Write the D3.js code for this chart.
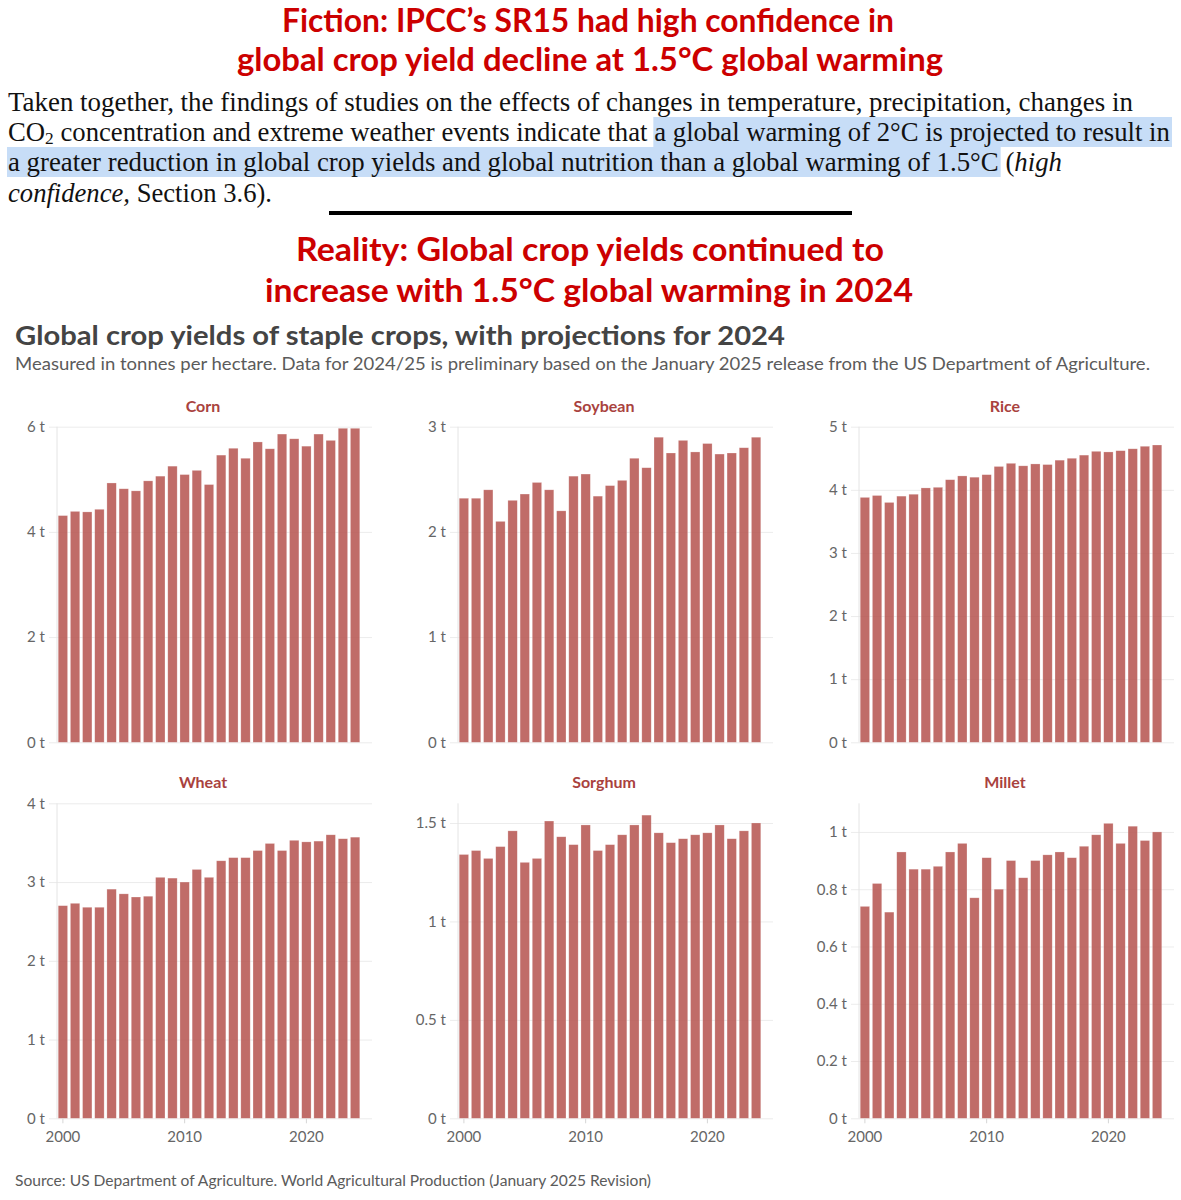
<!DOCTYPE html>
<html>
<head>
<meta charset="utf-8">
<script src="https://cdn.jsdelivr.net/npm/d3@7"></script>
<style>
  body { margin: 0; background: #fff; }
  svg text { white-space: pre; }
</style>
</head>
<body>
<svg id="chart" width="1181" height="1200"></svg>
<script>
// years 2000..2024 (2024/25 preliminary)
const years = [2000, 2001, 2002, 2003, 2004, 2005, 2006, 2007, 2008, 2009,
  2010, 2011, 2012, 2013, 2014, 2015, 2016, 2017, 2018, 2019,
  2020, 2021, 2022, 2023, 2024];

// tonnes per hectare
const corn = [4.31, 4.39, 4.38, 4.43, 4.93, 4.82, 4.78, 4.97, 5.06, 5.25,
  5.09, 5.17, 4.90, 5.46, 5.59, 5.40, 5.71, 5.58, 5.86, 5.77,
  5.63, 5.86, 5.74, 5.97, 5.97];
const soybean = [2.32, 2.32, 2.40, 2.10, 2.30, 2.36, 2.47, 2.40, 2.20, 2.53,
  2.55, 2.34, 2.44, 2.49, 2.70, 2.61, 2.90, 2.75, 2.87, 2.76,
  2.84, 2.74, 2.75, 2.80, 2.90];
const rice = [3.88, 3.91, 3.80, 3.90, 3.93, 4.03, 4.04, 4.16, 4.22, 4.20,
  4.24, 4.37, 4.42, 4.38, 4.41, 4.40, 4.47, 4.50, 4.55, 4.61,
  4.60, 4.62, 4.65, 4.69, 4.71];
const wheat = [2.70, 2.73, 2.68, 2.68, 2.91, 2.85, 2.81, 2.82, 3.06, 3.05,
  3.00, 3.16, 3.06, 3.27, 3.31, 3.31, 3.40, 3.49, 3.40, 3.53,
  3.51, 3.52, 3.60, 3.55, 3.57];
const sorghum = [1.34, 1.36, 1.32, 1.38, 1.46, 1.30, 1.32, 1.51, 1.43, 1.39,
  1.49, 1.36, 1.39, 1.44, 1.49, 1.54, 1.45, 1.40, 1.42, 1.44,
  1.45, 1.49, 1.42, 1.46, 1.50];
const millet = [0.74, 0.82, 0.72, 0.93, 0.87, 0.87, 0.88, 0.93, 0.96, 0.77,
  0.91, 0.80, 0.90, 0.84, 0.90, 0.92, 0.93, 0.91, 0.95, 0.99,
  1.03, 0.96, 1.02, 0.97, 1.00];

const crops = ["Corn", "Soybean", "Rice", "Wheat", "Sorghum", "Millet"];
const series = [corn, soybean, rice, wheat, sorghum, millet];
const yMax = [6, 3, 5, 4, 1.6, 1.1];
const yTicks = [
  [0, 2, 4, 6],
  [0, 1, 2, 3],
  [0, 1, 2, 3, 4, 5],
  [0, 1, 2, 3, 4],
  [0, 0.5, 1, 1.5],
  [0, 0.2, 0.4, 0.6, 0.8, 1]
];
const xTicks = [2000, 2010, 2020];

const svg = d3.select('#chart');
const RED = '#cc0000';
const SANS = 'Lato, "Noto Sans", sans-serif';
const HEAD = 'Lato, "Open Sans", sans-serif';
const SERIF = '"Liberation Serif", "DejaVu Serif", serif';

// text squeezed/stretched to a given width (start anchored)
function fitted(g, str, x, cy, width, size, family, weight, color) {
  return g.append('text')
    .attr('x', x).attr('y', cy)
    .attr('dominant-baseline', 'central')
    .style('font-family', family)
    .style('font-size', size + 'px')
    .style('font-weight', weight)
    .attr('fill', color)
    .attr('textLength', width)
    .attr('lengthAdjust', 'spacingAndGlyphs')
    .text(str);
}

// ---- headings ----
const head = svg.append('g');
fitted(head, 'Fiction: IPCC\u2019s SR15 had high confidence in', 282, 19, 612, 33, HEAD, 700, RED);
fitted(head, 'global crop yield decline at 1.5\u00B0C global warming', 237, 58, 706, 33, HEAD, 700, RED);
fitted(head, 'Reality: Global crop yields continued to', 296, 248, 588, 33, HEAD, 700, RED);
fitted(head, 'increase with 1.5\u00B0C global warming in 2024', 265, 289, 648, 33, HEAD, 700, RED);

// ---- quoted paragraph ----
const paraLines = [
  [{ t: 'Taken together, the findings of studies on the effects of changes in temperature, precipitation, changes in' }],
  [{ t: 'CO' }, { t: '2', sub: true }, { t: ' concentration and extreme weather events indicate that ' },
   { t: 'a global warming of 2\u00B0C is projected to result in', hl: true }],
  [{ t: 'a greater reduction in global crop yields and global nutrition than a global warming of 1.5\u00B0C', hl: true },
   { t: ' (' }, { t: 'high', it: true }],
  [{ t: 'confidence,', it: true }, { t: ' Section 3.6).' }]
];
const paraCenters = [102, 132, 162, 193];
const paraWidths = [1125, 1162, 1054, 264];
const paraLeft = 8;

// pick a font size so the first line spans the same width as in the picture
const probe = svg.append('text').style('font-family', SERIF).style('font-size', '100px').text(paraLines[0][0].t);
const pfs = 100 * 1125 / probe.node().getComputedTextLength();
probe.remove();

paraLines.forEach((segs, li) => {
  const lineG = svg.append('g');
  const hlG = lineG.append('g');
  const txG = lineG.append('g');
  let x = paraLeft;
  const base = paraCenters[li] + pfs * 0.33;
  segs.forEach(s => {
    const fs = s.sub ? pfs * 0.65 : pfs;
    const t = txG.append('text')
      .attr('x', x)
      .attr('y', s.sub ? base + pfs * 0.12 : base)
      .style('font-family', SERIF)
      .style('font-size', fs + 'px')
      .style('font-style', s.it ? 'italic' : 'normal')
      .attr('fill', '#111')
      .text(s.t);
    const w = t.node().getComputedTextLength();
    if (s.hl) {
      hlG.append('rect')
        .attr('x', x - 1).attr('y', paraCenters[li] - 15)
        .attr('width', w + 3).attr('height', 30)
        .attr('fill', '#c7ddf7');
    }
    x += w;
  });
  // small horizontal correction so each line ends where it does in the picture
  const sx = paraWidths[li] / (x - paraLeft);
  lineG.attr('transform', `translate(${paraLeft},0) scale(${sx},1) translate(${-paraLeft},0)`);
});

// black rule
svg.append('line')
  .attr('x1', 329).attr('x2', 852).attr('y1', 213).attr('y2', 213)
  .attr('stroke', '#000').attr('stroke-width', 4);

// ---- chart title block ----
fitted(svg, 'Global crop yields of staple crops, with projections for 2024', 15, 334, 770, 27, SANS, 700, '#444');
fitted(svg, 'Measured in tonnes per hectare. Data for 2024/25 is preliminary based on the January 2025 release from the US Department of Agriculture.',
  15, 363, 1135, 17, SANS, 400, '#5b5b5b');
fitted(svg, 'Source: US Department of Agriculture. World Agricultural Production (January 2025 Revision)',
  15, 1180, 636, 15.5, SANS, 400, '#5b5b5b');

// ---- small multiples ----
const colStep = 401;
const plotW = 315;
const barSpan = 304;
const rowTop = [426.7, 803.3];
const rowBase = [742.3, 1118.3];
const titleY = [405, 781];

crops.forEach((name, i) => {
  const col = i % 3, row = Math.floor(i / 3);
  const left = 57 + col * colStep;
  const g = svg.append('g');

  const x = d3.scaleBand().domain(years).range([left, left + barSpan])
    .paddingInner(0.23).paddingOuter(0.1);
  const y = d3.scaleLinear().domain([0, yMax[i]]).range([rowBase[row], rowTop[row]]);

  // grid + y labels
  const yAxis = g.append('g')
    .attr('transform', `translate(${left - 8},0)`)
    .call(d3.axisLeft(y).tickValues(yTicks[i]).tickSize(-(plotW + 8)).tickPadding(4)
      .tickFormat(d => d + ' t'));
  yAxis.select('.domain').remove();
  yAxis.selectAll('line').attr('stroke', '#ececec');
  yAxis.selectAll('text')
    .style('font-family', SANS).style('font-size', '15px').attr('fill', '#666');

  // vertical axis line
  g.append('line')
    .attr('x1', left).attr('x2', left)
    .attr('y1', rowTop[row]).attr('y2', rowBase[row])
    .attr('stroke', '#e4e4e4');

  // bars
  g.append('g').selectAll('rect')
    .data(series[i])
    .join('rect')
    .attr('x', (d, j) => x(years[j]))
    .attr('width', x.bandwidth())
    .attr('y', d => y(d))
    .attr('height', d => y(0) - y(d))
    .attr('fill', '#b5524e')
    .attr('fill-opacity', 0.85)
    .attr('stroke', '#fff')
    .attr('stroke-opacity', 0.4)
    .attr('stroke-width', 0.6);

  // x axis only on the bottom row
  if (row === 1) {
    const xAxis = g.append('g')
      .attr('transform', `translate(0,${rowBase[row]})`)
      .call(d3.axisBottom(x).tickValues(xTicks).tickSize(5).tickPadding(8));
    xAxis.select('.domain').remove();
    xAxis.selectAll('line').attr('stroke', '#d6d6d6');
    xAxis.selectAll('text')
      .style('font-family', SANS).style('font-size', '15px').attr('fill', '#666');
  }

  // panel title
  g.append('text')
    .attr('x', col * colStep + 203).attr('y', titleY[row])
    .attr('text-anchor', 'middle').attr('dominant-baseline', 'central')
    .style('font-family', SANS).style('font-size', '16px').style('font-weight', 700)
    .attr('fill', '#a9423e')
    .text(name);
});
</script>
</body>
</html>
